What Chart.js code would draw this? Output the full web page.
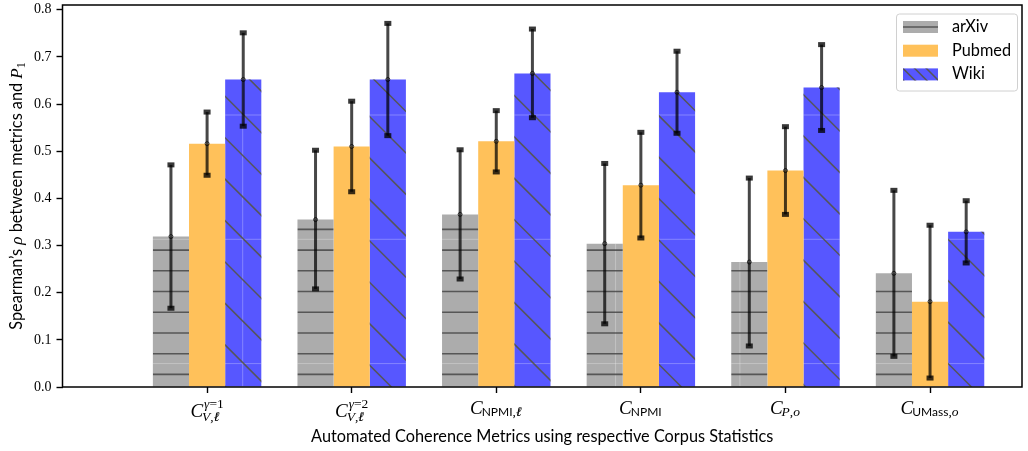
<!DOCTYPE html>
<html>
<head>
<meta charset="utf-8">
<script src="https://cdn.jsdelivr.net/npm/chart.js@4.4.1/dist/chart.umd.min.js"></script>
<style>
  html, body { margin: 0; padding: 0; background: #fff; }
  #wrap { width: 1028px; height: 451px; }
</style>
</head>
<body>
<div id="wrap"><canvas id="coherence"></canvas></div>
<script>
// metric names (tex-ish: base, _{sub}, ^{sup})
var categories = ['C_{V,ℓ̸}^{γ=1}', 'C_{V,ℓ̸}^{γ=2}', 'C_{NPMI,ℓ̸}', 'C_{NPMI}', 'C_{P,o}', 'C_{UMass,o}'];
var seriesNames = ['arXiv', 'Pubmed', 'Wiki'];

// mean Spearman rho per corpus
var arxiv  = [0.319, 0.355, 0.366, 0.304, 0.265, 0.241];
var pubmed = [0.516, 0.510, 0.521, 0.428, 0.459, 0.181];
var wiki   = [0.652, 0.652, 0.665, 0.625, 0.635, 0.329];

// +/- spread for the error bars
var arxivErr  = [0.152, 0.147, 0.137, 0.170, 0.178, 0.176];
var pubmedErr = [0.067, 0.096, 0.065, 0.112, 0.093, 0.162];
var wikiErr   = [0.099, 0.119, 0.094, 0.087, 0.091, 0.066];

var yTicks = [0.0, 0.1, 0.2, 0.3, 0.4, 0.5, 0.6, 0.7, 0.8];

var xTitle = 'Automated Coherence Metrics using respective Corpus Statistics';

var SANS = 'Lato';
var SERIF = '"Liberation Serif"';

var colors = ['#acacac', '#ffc15a', '#5757ff'];
var hatches = ['-', '', '\\'];
var errs = [arxivErr, pubmedErr, wikiErr];

function toPoints(arr) {
    var out = [];
    for (let i = 0; i < arr.length; i++) out.push({x: i, y: arr[i]});
    return out;
}

// hatch lines inside a rectangle, aligned on a global grid
var HSTEP = 124.3 / 6, DSTEP = 124.3 / 3;
function hatchRect(ctx, x0, y0, x1, y1, kind, off, step) {
    ctx.save();
    ctx.beginPath();
    ctx.rect(x0, y0, x1 - x0, y1 - y0);
    ctx.clip();
    ctx.beginPath();
    if (kind == '-') {
        step = step || HSTEP;
        var y = off + Math.ceil((y0 - off) / step) * step;
        for (; y <= y1; y += step) {
            ctx.moveTo(x0, y);
            ctx.lineTo(x1, y);
        }
        ctx.strokeStyle = 'rgba(70,70,70,0.85)';
        ctx.lineWidth = 1.6;
    } else {
        step = step || DSTEP;
        var cmin = y0 - x1, cmax = y1 - x0;
        var c = off + Math.ceil((cmin - off) / step) * step;
        for (; c <= cmax; c += step) {
            ctx.moveTo(x0 - 2, x0 - 2 + c);
            ctx.lineTo(x1 + 2, x1 + 2 + c);
        }
        ctx.strokeStyle = 'rgba(85,85,70,0.9)';
        ctx.lineWidth = 1.5;
    }
    ctx.stroke();
    ctx.restore();
}

// faint tile seams that show up in the hatched fills
function seams(ctx, x0, y0, x1, y1) {
    var T = 124.3;
    ctx.save();
    ctx.strokeStyle = 'rgba(255,255,255,0.28)';
    ctx.lineWidth = 1;
    ctx.beginPath();
    for (var x = 118.4 + Math.ceil((x0 - 118.4) / T) * T; x < x1; x += T) {
        ctx.moveTo(x, y0); ctx.lineTo(x, y1);
    }
    for (var y = 115 + Math.ceil((y0 - 115) / T) * T; y < y1; y += T) {
        ctx.moveTo(x0, y); ctx.lineTo(x1, y);
    }
    ctx.stroke();
    ctx.restore();
}

function parseLabel(s) {
    var m = s.match(/^([^_^]+)(?:_\{([^}]*)\})?(?:\^\{([^}]*)\})?$/);
    return {base: m[1], sub: m[2] || '', sup: m[3] || ''};
}

function tokens(s) {
    if (!s) return [];
    return s.match(/[A-Za-z]{2,}|[A-Za-zℓγ]\u0338?|./gu).map(function (t) {
        if (/^[A-Za-z]{2,}$/.test(t)) return {t: t, f: '12px ' + SANS};
        if (/^[A-Za-zℓγ]/.test(t)) {
            var slash = t.length > 1;
            return {t: t[0], f: 'italic 13.5px ' + SERIF, slash: slash};
        }
        return {t: t, f: '13.5px ' + SERIF};
    });
}

function runWidth(ctx, toks) {
    var w = 0;
    toks.forEach(function (k) { ctx.font = k.f; w += ctx.measureText(k.t).width; });
    return w;
}

function drawRun(ctx, toks, x, y) {
    toks.forEach(function (k) {
        ctx.font = k.f;
        var w = ctx.measureText(k.t).width;
        ctx.fillText(k.t, x, y);
        if (k.slash) {
            ctx.font = '13px ' + SERIF;
            var sw = ctx.measureText('/').width;
            ctx.fillText('/', x + (w - sw) / 2, y);
        }
        x += w;
    });
}

function drawRich(ctx, segs, x, y) {
    segs.forEach(function (s) {
        ctx.font = s.f;
        ctx.fillText(s.t, x, y + (s.dy || 0));
        x += ctx.measureText(s.t).width;
    });
}

function richWidth(ctx, segs) {
    var w = 0;
    segs.forEach(function (s) { ctx.font = s.f; w += ctx.measureText(s.t).width; });
    return w;
}

var decorations = {
    id: 'decorations',
    afterDatasetsDraw: function (chart) {
        var ctx = chart.ctx;
        var area = chart.chartArea;
        var xs = chart.scales.x, ys = chart.scales.y;

        // hatching
        chart.data.datasets.forEach(function (ds, di) {
            if (!hatches[di]) return;
            chart.getDatasetMeta(di).data.forEach(function (bar) {
                var p = bar.getProps(['x', 'y', 'base', 'width'], true);
                var x0 = p.x - p.width / 2, x1 = p.x + p.width / 2;
                var y0 = Math.min(p.y, p.base), y1 = Math.max(p.y, p.base);
                seams(ctx, x0, y0, x1, y1);
                hatchRect(ctx, x0, y0, x1, y1, hatches[di], hatches[di] == '-' ? 1.5 : 37);
            });
        });

        // error bars
        chart.data.datasets.forEach(function (ds, di) {
            chart.getDatasetMeta(di).data.forEach(function (bar, i) {
                var v = ds.data[i].y, e = errs[di][i];
                var cx = bar.x;
                var yt = ys.getPixelForValue(v + e), yb = ys.getPixelForValue(v - e);
                ctx.save();
                ctx.strokeStyle = 'rgba(0,0,0,0.72)';
                ctx.lineWidth = 3;
                ctx.beginPath();
                ctx.moveTo(cx, yt);
                ctx.lineTo(cx, yb);
                ctx.stroke();
                ctx.fillStyle = 'rgba(0,0,0,0.78)';
                ctx.fillRect(cx - 3.5, yt - 2.5, 7, 5);
                ctx.fillRect(cx - 3.5, yb - 2.5, 7, 5);
                ctx.lineWidth = 1;
                ctx.strokeStyle = 'rgba(0,0,0,0.7)';
                ctx.beginPath();
                ctx.arc(cx, bar.y, 2, 0, Math.PI * 2);
                ctx.stroke();
                ctx.restore();
            });
        });

        // axes box
        ctx.save();
        ctx.strokeStyle = '#000';
        ctx.lineWidth = 1.5;
        ctx.strokeRect(area.left, area.top, area.right - area.left, area.bottom - area.top);
        ctx.restore();

        // x tick labels
        ctx.save();
        ctx.fillStyle = '#000';
        ctx.textAlign = 'left';
        ctx.textBaseline = 'alphabetic';
        categories.forEach(function (c, i) {
            var lab = parseLabel(c);
            var sub = tokens(lab.sub), sup = tokens(lab.sup);
            var baseFont = 'italic 19px ' + SERIF;
            ctx.font = baseFont;
            var wb = ctx.measureText(lab.base).width;
            var ws = runWidth(ctx, sub), wp = runWidth(ctx, sup);
            var total = wb + Math.max(ws, wp + 1);
            var x0 = xs.getPixelForValue(i) - total / 2;
            var base = area.bottom + (sup.length ? 29.5 : 26.5);
            ctx.font = baseFont;
            ctx.fillText(lab.base, x0, base);
            drawRun(ctx, sub, x0 + wb - 1, base + (sup.length ? 4.5 : 2.5));
            drawRun(ctx, sup, x0 + wb + 1, base - 9);
        });

        // axis titles
        ctx.font = '16.3px ' + SANS;
        ctx.textAlign = 'center';
        ctx.fillText(xTitle, (area.left + area.right) / 2, area.bottom + 55);

        var ySegs = [
            {t: 'Spearman\u2019s ', f: '16.3px ' + SANS},
            {t: '\u03c1', f: 'italic 17px ' + SERIF},
            {t: ' between metrics and ', f: '16.3px ' + SANS},
            {t: 'P', f: 'italic 17px ' + SERIF},
            {t: '1', f: '12px ' + SERIF, dy: 3}
        ];
        ctx.textAlign = 'left';
        var tw = richWidth(ctx, ySegs);
        ctx.translate(area.left - 41, (area.top + area.bottom) / 2);
        ctx.rotate(-Math.PI / 2);
        drawRich(ctx, ySegs, -tw / 2, 0);
        ctx.restore();

        // legend
        ctx.save();
        var lx = 896.5, ly = 14, lw = 121, lh = 77;
        ctx.beginPath();
        ctx.roundRect(lx, ly, lw, lh, 3);
        ctx.fillStyle = 'rgba(255,255,255,0.85)';
        ctx.fill();
        ctx.strokeStyle = '#d0d0d0';
        ctx.lineWidth = 1;
        ctx.stroke();
        seriesNames.forEach(function (name, k) {
            var ry = ly + 7 + k * 23.7;
            ctx.fillStyle = colors[k];
            ctx.fillRect(lx + 6.5, ry, 35, 12);
            if (hatches[k] == '-') hatchRect(ctx, lx + 6.5, ry, lx + 41.5, ry + 12, '-', ry + 6, 40);
            if (hatches[k] == '\\') hatchRect(ctx, lx + 6.5, ry, lx + 41.5, ry + 12, '\\', ry - lx - 6.5, 11.7);
            ctx.fillStyle = '#000';
            ctx.font = '16.3px ' + SANS;
            ctx.textAlign = 'left';
            ctx.fillText(name, lx + 55.5, ry + 11);
        });
        ctx.restore();
    }
};

var ctx = document.getElementById('coherence').getContext('2d');
var chart = new Chart(ctx, {
    type: 'bar',
    data: {
        datasets: [
            {label: seriesNames[0], data: toPoints(arxiv), backgroundColor: colors[0]},
            {label: seriesNames[1], data: toPoints(pubmed), backgroundColor: colors[1]},
            {label: seriesNames[2], data: toPoints(wiki), backgroundColor: colors[2]}
        ]
    },
    options: {
        responsive: true,
        maintainAspectRatio: false,
        animation: false,
        devicePixelRatio: 1,
        categoryPercentage: 0.75,
        barPercentage: 1.0,
        layout: {padding: {top: 5, right: 6, left: 0, bottom: 0}},
        plugins: {legend: {display: false}, tooltip: {enabled: false}},
        scales: {
            x: {
                type: 'linear',
                offset: false,
                min: -1,
                max: 5.636,
                afterBuildTicks: function (s) { s.ticks = categories.map(function (c, i) { return {value: i}; }); },
                afterFit: function (s) { s.height = 64; s.paddingLeft = 0; s.paddingRight = 0; },
                ticks: {display: false},
                border: {display: false},
                grid: {offset: false, drawOnChartArea: false, tickLength: 6, tickColor: '#000', tickWidth: 1.4}
            },
            y: {
                min: 0,
                max: 0.81,
                afterBuildTicks: function (s) { s.ticks = yTicks.map(function (v) { return {value: v}; }); },
                afterFit: function (s) { s.width = 62.5; s.paddingTop = 0; s.paddingBottom = 0; },
                ticks: {
                    padding: 5,
                    color: '#000',
                    font: {family: 'Liberation Serif', size: 14},
                    callback: function (v) { return Number(v).toFixed(1); }
                },
                border: {display: false},
                grid: {drawOnChartArea: false, tickLength: 6, tickColor: '#000', tickWidth: 1.4}
            }
        }
    },
    plugins: [decorations]
});
</script>
</body>
</html>
